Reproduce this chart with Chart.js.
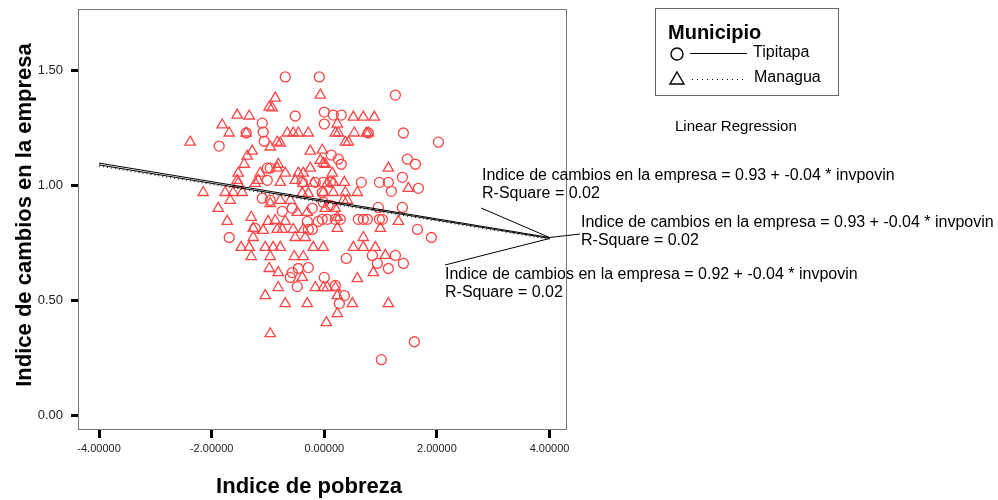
<!DOCTYPE html>
<html lang="es">
<head>
    <meta charset="UTF-8">
    <title>Indice de cambios en la empresa vs Indice de pobreza</title>
    <style>
        body {
            margin: 0;
            background: #fff;
            font-family: Arial, "Liberation Sans", sans-serif;
        }
        #wrap {
            width: 998px;
            height: 500px;
        }
    </style>
    <script src="https://cdn.jsdelivr.net/npm/chart.js"></script>
</head>
<body>
    <div id="wrap">
        <canvas id="scatterChart" width="998" height="500"></canvas>
    </div>

    <script>
        // Tipitapa (circles)
        const tipitapaX = [
            -0.693, -0.089, 1.262, -0.516, 0.000, 0.000, 0.160, 0.302, -1.102, -1.084,
            -1.067, -1.387, -1.867, 0.782, 1.404, 2.027, 0.124, 0.249, 0.302, 1.476,
            1.618, 1.387, -1.013, -0.960, -1.013, -0.391, -0.160, -0.018, 0.107, 0.658,
            0.978, 1.138, 1.671, 1.191, -0.036, -1.102, -0.960, -0.018, 0.107, -0.747,
            -0.569, -0.213, 0.960, 1.387, -0.036, 0.053, 0.196, 0.284, 0.604, 0.693,
            0.764, 0.978, 1.031, -0.302, -0.107, -1.227, -0.284, -0.213, 1.653, -1.689,
            1.902, 0.853, 1.262, 0.391, 0.942, 1.404, 1.138, -0.569, -0.462, -0.284,
            -0.604, 0.000, -0.480, 0.196, 0.356, 0.267, 1.600, 1.013
        ];
        const tipitapaY = [
            1.473, 1.473, 1.394, 1.303, 1.320, 1.268, 1.307, 1.307, 1.272, 1.233,
            1.193, 1.229, 1.172, 1.229, 1.229, 1.189, 1.133, 1.115, 1.093, 1.115,
            1.093, 1.036, 1.076, 1.076, 1.023, 1.014, 1.014, 1.014, 1.014, 1.014,
            1.014, 1.014, 0.988, 0.975, 0.970, 0.945, 0.936, 0.927, 0.914, 0.888,
            0.901, 0.901, 0.905, 0.905, 0.853, 0.853, 0.853, 0.853, 0.853, 0.853,
            0.853, 0.853, 0.853, 0.844, 0.844, 0.814, 0.809, 0.809, 0.809, 0.774,
            0.774, 0.696, 0.696, 0.683, 0.661, 0.661, 0.639, 0.621, 0.639, 0.643,
            0.600, 0.600, 0.560, 0.565, 0.521, 0.486, 0.320, 0.242
        ];

        // Managua (triangles)
        const managuaX = [
            -0.071, -0.871, -0.978, -0.925, -1.547, -1.333, -1.813, -1.689, -1.387, -0.658,
            -0.551, -0.462, -0.284, 0.516, 0.693, 0.889, 0.231, 0.196, 0.249, 0.533,
            0.782, 0.747, 0.373, 0.427, -2.382, -0.960, -0.836, -0.782, -1.280, -1.369,
            -1.422, -1.529, -1.547, -0.249, -0.036, -0.071, -0.018, 0.018, -0.818, -0.836,
            -0.693, -1.138, -1.173, -0.782, -0.516, -0.462, -0.373, -0.249, 0.142, 0.160,
            0.356, 1.138, 1.493, -2.151, -1.760, -1.618, -1.458, -1.671, -1.529, -1.227,
            -0.373, -0.196, -0.960, -0.782, -0.604, -0.391, -0.284, -1.884, -0.480, -0.302,
            -1.724, -1.298, -1.262, -1.084, -0.996, -0.871, -0.693, -0.836, -0.747, -0.551,
            -0.373, -1.262, -0.516, -0.338, -1.476, -1.333, -1.049, -0.907, -0.782, -0.196,
            -0.018, -1.298, -0.960, -0.533, -0.373, -0.978, -0.818, -0.391, -0.818, -0.160,
            -0.018, 0.053, -1.049, -0.018, 0.160, 0.373, 0.587, 0.053, 0.018, 0.196,
            0.338, 0.409, 0.231, 0.231, 0.996, 1.316, 0.693, 0.516, 0.693, 0.907,
            1.084, 0.871, 0.587, 0.196, 0.231, 0.498, 1.138, 0.231, 0.036, -0.693,
            -0.302, -0.960
        ];
        const managuaY = [
            1.394, 1.381, 1.342, 1.338, 1.307, 1.303, 1.264, 1.229, 1.229, 1.229,
            1.229, 1.229, 1.229, 1.298, 1.298, 1.298, 1.268, 1.229, 1.229, 1.229,
            1.229, 1.229, 1.189, 1.189, 1.189, 1.168, 1.189, 1.185, 1.150, 1.128,
            1.093, 1.054, 1.023, 1.150, 1.154, 1.110, 1.097, 1.093, 1.093, 1.076,
            1.054, 1.054, 1.023, 1.014, 1.023, 1.054, 1.054, 1.076, 1.054, 1.014,
            1.014, 1.076, 0.988, 0.970, 0.970, 0.970, 0.970, 0.936, 1.010, 1.010,
            1.010, 1.010, 0.922, 0.936, 0.936, 0.966, 0.966, 0.901, 0.883, 0.883,
            0.844, 0.862, 0.814, 0.805, 0.844, 0.848, 0.844, 0.809, 0.809, 0.809,
            0.809, 0.774, 0.774, 0.774, 0.731, 0.731, 0.731, 0.731, 0.731, 0.731,
            0.731, 0.691, 0.691, 0.691, 0.691, 0.639, 0.621, 0.600, 0.556, 0.556,
            0.556, 0.556, 0.521, 0.970, 0.970, 0.970, 0.970, 1.010, 0.901, 0.901,
            0.936, 0.936, 0.862, 0.814, 0.814, 0.844, 0.774, 0.731, 0.731, 0.731,
            0.696, 0.621, 0.595, 0.556, 0.521, 0.486, 0.486, 0.442, 0.403, 0.486,
            0.486, 0.355
        ];

        // Fit lines, endpoints at x = -4 and x = 4
        const fitX = [-4, 4];
        const fitTotal = [1.098, 0.774];
        const fitTipitapa = [1.090, 0.770];
        const fitManagua = [1.085, 0.766];

        const xTicks = [-4, -2, 0, 2, 4];
        const yTicks = [0, 0.5, 1.0, 1.5];

        const fitLabels = [
            ['Indice de cambios en la empresa = 0.93 + -0.04 * invpovin', 'R-Square = 0.02'],
            ['Indice de cambios en la empresa = 0.93 + -0.04 * invpovin', 'R-Square = 0.02'],
            ['Indice de cambios en la empresa = 0.92 + -0.04 * invpovin', 'R-Square = 0.02']
        ];

        const red = '#ff4444';
        const FONT = 'Arial, "Liberation Sans", sans-serif';

        function toPoints(xs, ys) {
            return xs.map((x, i) => ({ x: x, y: ys[i] }));
        }

        // Draws the frame, titles, legend and fit labels
        const extras = {
            id: 'extras',
            afterDraw(chart) {
                const ctx = chart.ctx;
                const area = chart.chartArea;
                const xs = chart.scales.x;
                const ys = chart.scales.y;
                ctx.save();

                // plot frame
                ctx.strokeStyle = '#777';
                ctx.lineWidth = 1;
                ctx.strokeRect(area.left - 0.5, area.top + 0.5, area.right - area.left, area.bottom - area.top);

                // axis titles
                ctx.fillStyle = '#000';
                ctx.font = 'bold 22px ' + FONT;
                ctx.textAlign = 'center';
                ctx.textBaseline = 'middle';
                ctx.fillText('Indice de pobreza', 309, 487);
                ctx.save();
                ctx.translate(25, 215);
                ctx.rotate(-Math.PI / 2);
                ctx.fillText('Indice de cambios en la empresa', 0, 0);
                ctx.restore();

                // legend box
                ctx.strokeStyle = '#666';
                ctx.strokeRect(655.5, 8.5, 183, 87);
                ctx.textAlign = 'left';
                ctx.font = 'bold 20px ' + FONT;
                ctx.fillText('Municipio', 668, 33);
                ctx.font = '16px ' + FONT;
                ctx.fillText('Tipitapa', 753, 53);
                ctx.fillText('Managua', 754, 78);

                ctx.strokeStyle = '#000';
                ctx.lineWidth = 1.4;
                ctx.beginPath();
                ctx.arc(677, 54, 6, 0, Math.PI * 2);
                ctx.stroke();
                ctx.beginPath();
                ctx.moveTo(677, 72);
                ctx.lineTo(684, 84);
                ctx.lineTo(670, 84);
                ctx.closePath();
                ctx.stroke();

                ctx.lineWidth = 1;
                ctx.beginPath();
                ctx.moveTo(690, 53.5);
                ctx.lineTo(747, 53.5);
                ctx.stroke();
                ctx.setLineDash([1, 4]);
                ctx.beginPath();
                ctx.moveTo(692, 79.5);
                ctx.lineTo(747, 79.5);
                ctx.stroke();
                ctx.setLineDash([]);

                ctx.font = '15px ' + FONT;
                ctx.fillText('Linear Regression', 675, 127);

                // fit labels with leader lines
                const ex = xs.getPixelForValue(fitX[1]);
                const ey = ys.getPixelForValue(fitTotal[1]);
                ctx.font = '16px ' + FONT;
                const spots = [[482, 176], [581, 223], [445, 275]];
                fitLabels.forEach((lines, i) => {
                    ctx.fillText(lines[0], spots[i][0], spots[i][1]);
                    ctx.fillText(lines[1], spots[i][0], spots[i][1] + 18);
                });
                ctx.beginPath();
                ctx.moveTo(481, 208);
                ctx.lineTo(ex, ey);
                ctx.lineTo(580, 234);
                ctx.moveTo(445, 265);
                ctx.lineTo(ex, ey + 1);
                ctx.stroke();

                ctx.restore();
            }
        };

        const ctx = document.getElementById('scatterChart').getContext('2d');
        const chart = new Chart(ctx, {
            type: 'scatter',
            data: {
                datasets: [
                    {
                        label: 'Total',
                        type: 'line',
                        data: toPoints(fitX, fitTotal),
                        borderColor: '#000',
                        borderWidth: 1,
                        pointRadius: 0,
                        fill: false,
                        order: 0
                    },
                    {
                        label: 'Tipitapa fit',
                        type: 'line',
                        data: toPoints(fitX, fitTipitapa),
                        borderColor: '#000',
                        borderWidth: 1,
                        pointRadius: 0,
                        fill: false,
                        order: 0
                    },
                    {
                        label: 'Managua fit',
                        type: 'line',
                        data: toPoints(fitX, fitManagua),
                        borderColor: '#000',
                        borderWidth: 1,
                        borderDash: [1, 3],
                        pointRadius: 0,
                        fill: false,
                        order: 0
                    },
                    {
                        label: 'Tipitapa',
                        data: toPoints(tipitapaX, tipitapaY),
                        pointStyle: 'circle',
                        pointRadius: 5,
                        borderColor: red,
                        borderWidth: 1.3,
                        backgroundColor: 'rgba(0,0,0,0)',
                        order: 1
                    },
                    {
                        label: 'Managua',
                        data: toPoints(managuaX, managuaY),
                        pointStyle: 'triangle',
                        pointRadius: 6,
                        borderColor: red,
                        borderWidth: 1.3,
                        backgroundColor: 'rgba(0,0,0,0)',
                        order: 1
                    }
                ]
            },
            options: {
                responsive: false,
                animation: false,
                layout: {
                    padding: { top: 9, right: 431, left: 0, bottom: 0 }
                },
                scales: {
                    x: {
                        type: 'linear',
                        min: -4.356,
                        max: 4.31,
                        afterFit(scale) {
                            scale.height = 71;
                            scale.paddingLeft = 0;
                            scale.paddingRight = 0;
                        },
                        afterBuildTicks(scale) { scale.ticks = xTicks.map(v => ({ value: v })); },
                        grid: {
                            drawOnChartArea: false,
                            drawTicks: true,
                            tickLength: 9,
                            tickWidth: 3,
                            tickColor: '#000'
                        },
                        border: { display: false },
                        ticks: {
                            padding: 4,
                            color: '#222',
                            font: { family: FONT, size: 11 },
                            callback: v => v.toFixed(5)
                        }
                    },
                    y: {
                        type: 'linear',
                        min: -0.06,
                        max: 1.769,
                        afterFit(scale) {
                            scale.width = 79;
                            scale.paddingTop = 0;
                            scale.paddingBottom = 0;
                        },
                        afterBuildTicks(scale) { scale.ticks = yTicks.map(v => ({ value: v })); },
                        grid: {
                            drawOnChartArea: false,
                            drawTicks: true,
                            tickLength: 8,
                            tickWidth: 3,
                            tickColor: '#000'
                        },
                        border: { display: false },
                        ticks: {
                            padding: 8,
                            color: '#222',
                            font: { family: FONT, size: 13 },
                            callback: v => v.toFixed(2)
                        }
                    }
                },
                plugins: {
                    legend: { display: false },
                    tooltip: { enabled: false }
                }
            },
            plugins: [extras]
        });
    </script>
</body>
</html>
